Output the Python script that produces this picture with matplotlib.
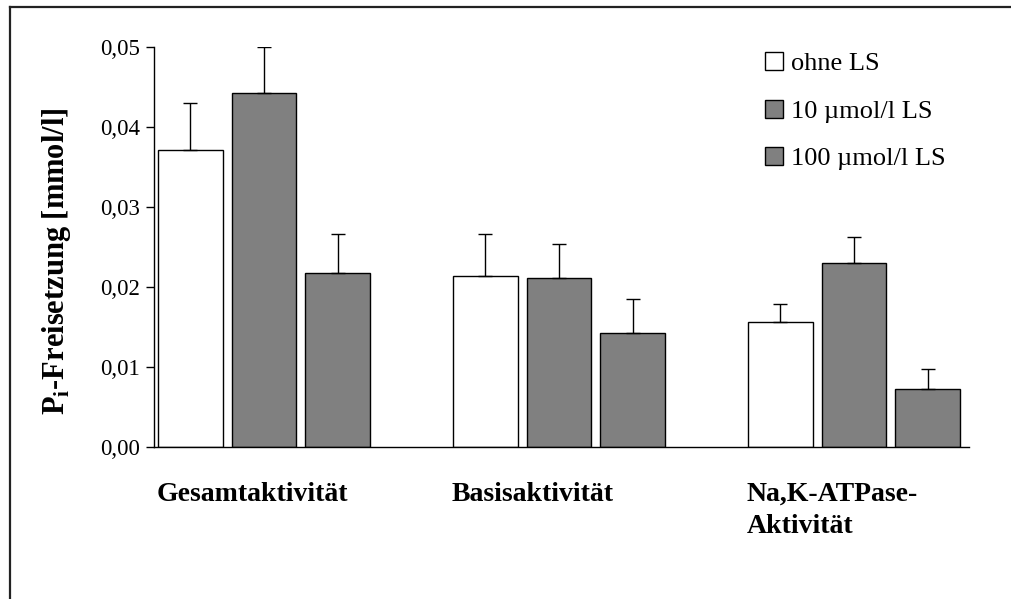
import matplotlib
matplotlib.use("Agg")
import matplotlib.pyplot as plt
from matplotlib.lines import Line2D
import numpy as np

categories = ["Gesamtaktivität", "Basisaktivität", "Na,K-ATPase-\nAktivität"]
series_names = ["ohne LS", "10 µmol/l LS", "100 µmol/l LS"]
ohne_ls = [0.0371, 0.0214, 0.0156]
ls_10 = [0.0443, 0.0211, 0.0230]
ls_100 = [0.0217, 0.0142, 0.0072]
err_ohne = [0.0059, 0.0052, 0.0023]
err_10 = [0.0057, 0.0043, 0.0032]
err_100 = [0.0049, 0.0043, 0.0026]
yticks = [0.0, 0.01, 0.02, 0.03, 0.04, 0.05]
ytick_labels = ["0,00", "0,01", "0,02", "0,03", "0,04", "0,05"]

plt.rcParams['font.family'] = ['Liberation Serif', 'DejaVu Serif']

W, H = 1011, 599
fig = plt.figure(figsize=(W / 100, H / 100), dpi=100)
ax = fig.add_axes([154 / W, 1 - 447 / H, (969 - 154) / W, 400 / H])

values = [ohne_ls, ls_10, ls_100]
errors = [err_ohne, err_10, err_100]
colors = ["white", "#808080", "#808080"]
x = np.arange(len(categories))
width = 0.22
offsets = [-0.25, 0.0, 0.25]
for vals, errs, col, off, name in zip(values, errors, colors, offsets, series_names):
    ax.bar(x + off, vals, width, color=col, edgecolor="black", linewidth=1.0, label=name, zorder=2)
    ax.errorbar(x + off, vals, yerr=[np.zeros(len(errs)), errs], fmt="none",
                ecolor="black", elinewidth=1.0, capsize=4.7, capthick=1.0, zorder=3)

ax.set_xlim(-0.373, 2.39)
ax.set_ylim(0, 0.05)
ax.set_yticks(yticks)
ax.set_yticklabels(ytick_labels, fontsize=16.5)
ax.tick_params(axis="y", direction="out", length=6, width=1.0, pad=4)
ax.set_xticks([])
for s in ["top", "right"]:
    ax.spines[s].set_visible(False)
for s in ["left", "bottom"]:
    ax.spines[s].set_linewidth(1.0)

fig.text(57 / W, 1 - 261 / H, r"P$_\mathregular{i}$-Freisetzung [mmol/l]", fontsize=22,
         fontweight="bold", rotation=90, ha="center", va="center")

for xi, cat in zip(x, categories):
    ax.text(xi + offsets[0] - width / 2 - 0.005, -0.00435, cat, fontsize=20, fontweight="bold",
            ha="left", va="top", linespacing=1.37)

leg = ax.legend(loc="upper left", bbox_to_anchor=(765 / W, 1 - 52 / H), bbox_transform=fig.transFigure,
                frameon=False, fontsize=19, handlelength=0.68, handleheight=0.68,
                handletextpad=0.3, labelspacing=0.92, borderaxespad=0, borderpad=0)

# outer frame
fig.add_artist(Line2D([10 / W, 10 / W], [0, 1 - 7 / H], color="#222222", linewidth=1.6, transform=fig.transFigure))
fig.add_artist(Line2D([10 / W, 1], [1 - 7 / H, 1 - 7 / H], color="#222222", linewidth=1.6, transform=fig.transFigure))

fig.savefig("out.png", dpi=100)
